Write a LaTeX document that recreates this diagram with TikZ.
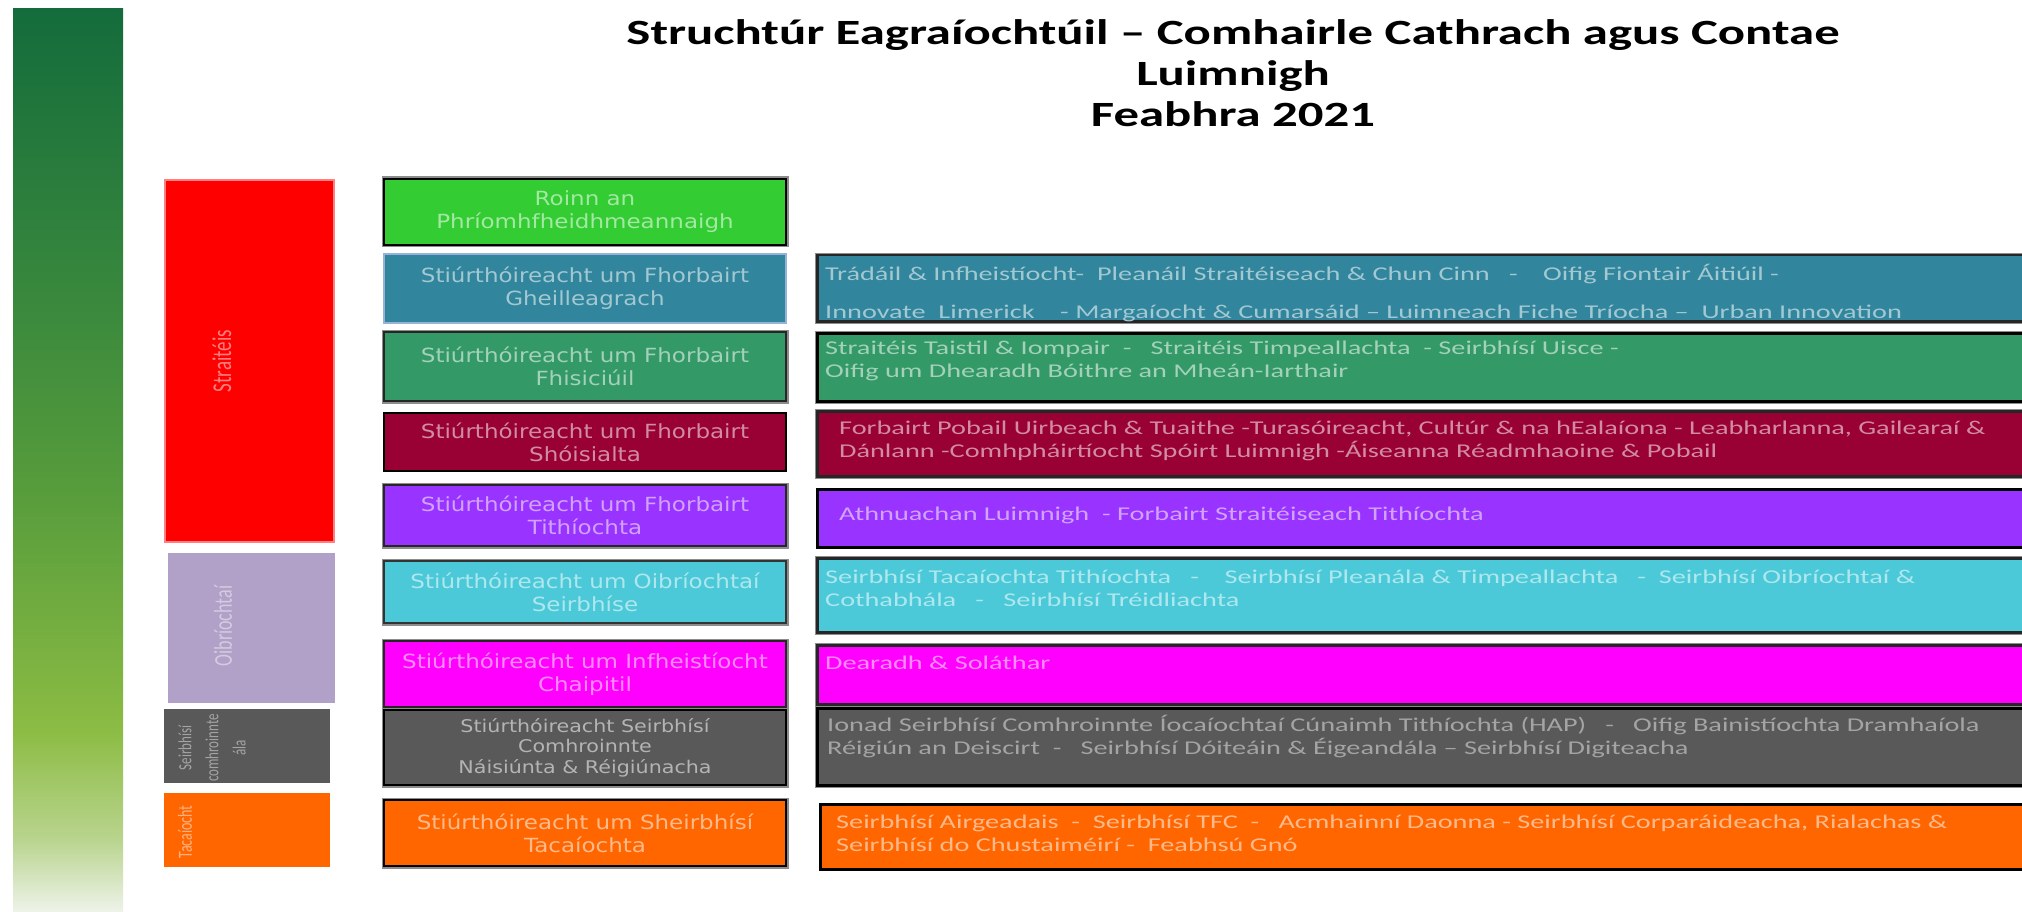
\documentclass[tikz,border=0pt]{standalone}
\usepackage{fontspec}
\setmainfont{Carlito}
\newfontfamily\wf{Carlito}[FakeStretch=1.45]
\newfontfamily\tf{Carlito}[FakeStretch=1.43]
\newfontfamily\lf{DejaVu Sans}[FakeStretch=1.18]
\definecolor{gtop}{HTML}{146C3C}
\definecolor{gm1}{HTML}{3A893D}
\definecolor{gm2}{HTML}{5A9E3C}
\definecolor{gm3}{HTML}{8CBC44}
\definecolor{gm4}{HTML}{B9D48E}
\definecolor{gbot}{HTML}{EEF3EA}
\pgfdeclareverticalshading{gbar}{100bp}{color(0bp)=(gbot); color(25bp)=(gbot); color(29bp)=(gm4); color(35bp)=(gm3); color(47.5bp)=(gm2); color(58.5bp)=(gm1); color(75bp)=(gtop); color(100bp)=(gtop)}
\definecolor{cred}{HTML}{FF0000}
\definecolor{clilac}{HTML}{B1A0C7}
\definecolor{cgray}{HTML}{595959}
\definecolor{corange}{HTML}{FF6600}
\definecolor{cgreen}{HTML}{33CC33}
\definecolor{cblue}{HTML}{31859C}
\definecolor{cteal}{HTML}{339966}
\definecolor{cmaroon}{HTML}{990033}
\definecolor{cpurple}{HTML}{9933FF}
\definecolor{ccyan}{HTML}{4BC9D8}
\definecolor{cmag}{HTML}{FF00FF}
\definecolor{lblue}{HTML}{95B3D7}
\tikzset{
  bx/.style 2 args={draw=#2, fill=#1, line width=2.5pt, inner sep=0pt, text=white!55!#1},
  shd/.style={preaction={draw=black!45, line width=5pt}},
  cat/.style 2 args={draw=#2, fill=#1, line width=2.5pt, inner sep=0pt},
  ltext/.style={font=\lf\fontsize{19.5}{23}\selectfont, align=center},
  rtext/.style={font=\wf\fontsize{19.5}{23.5}\selectfont, inner sep=0pt, anchor=base west},
  vlab/.style={inner sep=0pt},
}
\newcommand{\vtxt}[2]{\scalebox{1.43}[1]{\rotatebox{90}{\fontsize{#1}{#1}\selectfont #2}}}
\newcommand{\rl}[1]{\begin{tabular}[t]{@{}l@{}}#1\end{tabular}}
\begin{document}
\begin{tikzpicture}[x=1pt,y=-1pt]
\useasboundingbox (0,0) rectangle (2022,912);
\fill[white] (0,0) rectangle (2022,912);
% gradient bar
\shade[shading=gbar] (13,9) rectangle (123,912);
% title
\node[font=\tf\bfseries\fontsize{35.5}{41}\selectfont, align=center] (title) at (1233,73)
  {Struchtúr Eagraíochtúil – Comhairle Cathrach agus Contae\\Luimnigh\\Feabhra 2021};
% category boxes
\node[cat={cred}{red!50!white}, minimum width=169pt, minimum height=362pt] (strat) at (249.5,361) {};
\node[vlab, text=white!50!cred] (stratl) at (222,361) {\vtxt{19}{Straitéis}};
\node[cat={clilac}{clilac}, minimum width=165pt, minimum height=148pt] (oib) at (251.5,628) {};
\node[vlab, text=white!45!clilac] (oibl) at (223,626) {\vtxt{18}{Oibríochtaí}};
\node[cat={cgray}{cgray}, minimum width=164pt, minimum height=72pt] (scom) at (247,746) {};
\node[vlab, text=white!45!cgray] (scoml) at (213,748) {\scalebox{1.43}[1]{\rotatebox{90}{\fontsize{13}{19}\selectfont\begin{tabular}{@{}c@{}}Seirbhísí\\comhroinnte\\ála\end{tabular}}}};
\node[cat={corange}{corange}, minimum width=164pt, minimum height=72pt] (tac) at (247,830) {};
\node[vlab, text=white!50!corange] (tacl) at (185,832) {\vtxt{14}{Tacaíocht}};
% left column
\node[bx={cgreen}{black}, shd, ltext, minimum width=402pt, minimum height=66pt] (roinn) at (585,212) {Roinn an\\Phríomhfheidhmeannaigh};
\node[bx={cblue}{lblue}, ltext, minimum width=402pt, minimum height=69pt] (lgeil) at (585,288.5) {Stiúrthóireacht um Fhorbairt\\Gheilleagrach};
\node[bx={cteal}{black!85}, shd, ltext, minimum width=402pt, minimum height=69pt] (lfis) at (585,366.5) {Stiúrthóireacht um Fhorbairt\\Fhisiciúil};
\node[bx={cmaroon}{black}, ltext, minimum width=402pt, minimum height=58pt] (lsho) at (585,442) {Stiúrthóireacht um Fhorbairt\\Shóisialta};
\node[bx={cpurple}{black!85}, shd, ltext, minimum width=402pt, minimum height=61pt] (ltith) at (585,515.5) {Stiúrthóireacht um Fhorbairt\\Tithíochta};
\node[bx={ccyan}{black!80}, shd, ltext, minimum width=402pt, minimum height=62pt] (loib) at (585,592) {Stiúrthóireacht um Oibríochtaí\\Seirbhíse};
\node[bx={cmag}{black!85}, shd, ltext, minimum width=402pt, minimum height=66pt] (linf) at (585,674) {Stiúrthóireacht um Infheistíocht\\Chaipitil};
\node[bx={cgray}{black}, shd, font=\lf\fontsize{17.5}{20.5}\selectfont, align=center, minimum width=402pt, minimum height=75pt] (lcom) at (585,747.5) {Stiúrthóireacht Seirbhísí\\Comhroinnte\\Náisiúnta \& Réigiúnacha};
\node[bx={corange}{black}, shd, ltext, minimum width=402pt, minimum height=66pt] (ltac) at (585,833) {Stiúrthóireacht um Sheirbhísí\\Tacaíochta};
% right column
\node[bx={cblue}{black!85}, shd, anchor=north west, minimum width=1224pt, minimum height=66pt] (rgeil) at (816,254) {};
\node[rtext, text=white!55!cblue] (tgeil) at (825,280) {\rl{Trádáil \& Infheistíocht-\ \ Pleanáil Straitéiseach \& Chun Cinn \ \ - \ \ \ Oifig Fiontair Áitiúil -\\[14.5pt]Innovate\ \ Limerick \ \ \ - Margaíocht \& Cumarsáid – Luimneach Fiche Tríocha – \ Urban Innovation}};
\node[bx={cteal}{black}, shd, anchor=north west, minimum width=1224pt, minimum height=68pt] (rfis) at (816,332) {};
\node[rtext, text=white!55!cteal] (tfis) at (825,354) {\rl{Straitéis Taistil \& Iompair \ - \ \ Straitéis Timpeallachta \ - Seirbhísí Uisce -\\Oifig um Dhearadh Bóithre an Mheán-Iarthair}};
\node[bx={cmaroon}{black!85}, shd, anchor=north west, minimum width=1224pt, minimum height=65pt] (rsho) at (816,410) {};
\node[rtext, text=white!55!cmaroon] (tsho) at (839,434) {\rl{Forbairt Pobail Uirbeach \& Tuaithe -Turasóireacht, Cultúr \& na hEalaíona - Leabharlanna, Gailearaí \&\\Dánlann -Comhpháirtíocht Spóirt Luimnigh -Áiseanna Réadmhaoine \& Pobail}};
\node[bx={cpurple}{black}, anchor=north west, minimum width=1224pt, minimum height=58pt] (rtith) at (816,488) {};
\node[rtext, text=white!55!cpurple] (ttith) at (839,520) {Athnuachan Luimnigh\ \ - Forbairt Straitéiseach Tithíochta};
\node[bx={ccyan}{black!85}, shd, anchor=north west, minimum width=1224pt, minimum height=74pt] (roib) at (816,557) {};
\node[rtext, text=white!55!ccyan] (toib) at (825,583) {\rl{Seirbhísí Tacaíochta Tithíochta \ \ - \ \ \ Seirbhísí Pleanála \& Timpeallachta \ \ -\ \ Seirbhísí Oibríochtaí \&\\Cothabhála \ \ - \ \ Seirbhísí Tréidliachta}};
\node[bx={cmag}{black!85}, shd, anchor=north west, minimum width=1224pt, minimum height=59pt] (rinf) at (816,644) {};
\node[rtext, text=white!55!cmag] (tinf) at (825,669) {Dearadh \& Soláthar};
\node[bx={cgray}{black}, shd, anchor=north west, minimum width=1224pt, minimum height=77pt] (rcom) at (816,707) {};
\node[rtext, text=white!45!cgray] (tcom) at (827,731) {\rl{Ionad Seirbhísí Comhroinnte Íocaíochtaí Cúnaimh Tithíochta (HAP) \ \ - \ \ Oifig Bainistíochta Dramhaíola\\Réigiún an Deiscirt \ - \ \ Seirbhísí Dóiteáin \& Éigeandála – Seirbhísí Digiteacha}};
\node[bx={corange}{black}, anchor=north west, minimum width=1224pt, minimum height=65pt] (rtac) at (819,803) {};
\node[rtext, text=white!55!corange] (ttac) at (836,828) {\rl{Seirbhísí Airgeadais\ \ -\ \ Seirbhísí TFC\ \ - \ \ Acmhainní Daonna - Seirbhísí Corparáideacha, Rialachas \&\\Seirbhísí do Chustaiméirí -\ \ Feabhsú Gnó}};
\end{tikzpicture}
\end{document}
